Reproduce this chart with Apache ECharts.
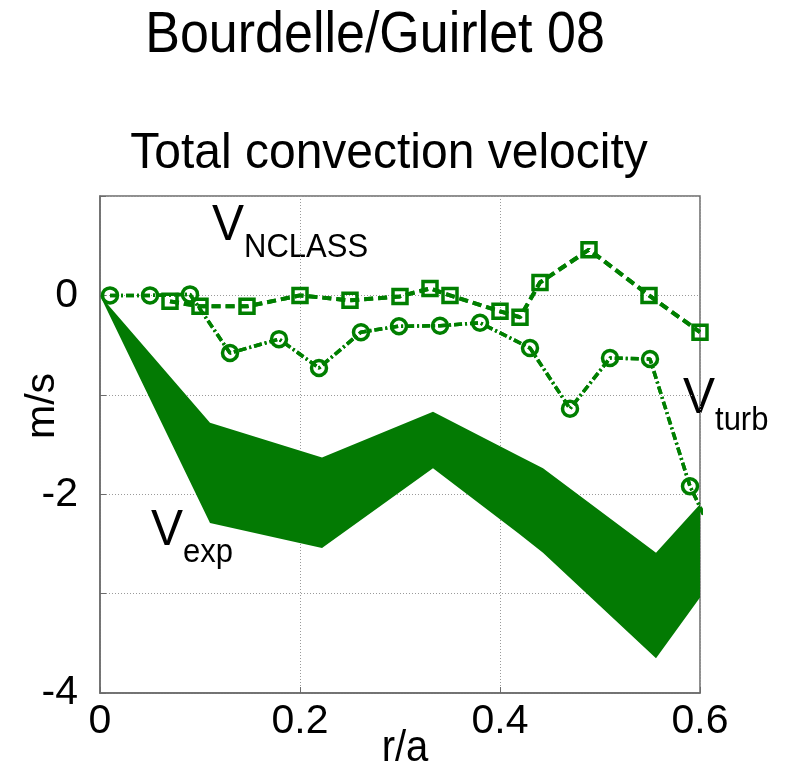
<!DOCTYPE html>
<html>
<head>
<meta charset="utf-8">
<title>Total convection velocity</title>
<script src="https://cdn.jsdelivr.net/npm/echarts@6/dist/echarts.min.js"></script>
<style>
  html, body { margin: 0; padding: 0; background: #fff; }
  #chart { width: 785px; height: 766px; }
</style>
</head>
<body>
<div id="chart"></div>
<script>
// Turbulent convection velocity V_turb (circles)
const turbR = [0.01, 0.05, 0.09, 0.13, 0.179, 0.219, 0.261, 0.299, 0.34, 0.38, 0.43, 0.47, 0.51, 0.55, 0.59, 0.62];
const turbV = [0.0, 0.0, 0.01, -0.58, -0.44, -0.73, -0.37, -0.31, -0.305, -0.275, -0.53, -1.14, -0.63, -0.64, -1.92, -2.55];

// Neoclassical convection velocity V_NCLASS (squares)
const nclassR = [0.07, 0.10, 0.147, 0.20, 0.25, 0.30, 0.33, 0.35, 0.40, 0.42, 0.44, 0.489, 0.549, 0.60];
const nclassV = [-0.06, -0.11, -0.11, 0.0, -0.05, -0.01, 0.07, 0.0, -0.16, -0.22, 0.13, 0.46, 0.0, -0.37];

// Experimental convection velocity V_exp (uncertainty band)
const expR     = [0.0, 0.11, 0.222, 0.333, 0.418, 0.443, 0.556, 0.60];
const expUpper = [0.0, -1.28, -1.63, -1.17, -1.61, -1.74, -2.59, -2.10];
const expLower = [0.0, -2.29, -2.54, -1.74, -2.39, -2.59, -3.65, -3.04];

// Axis ticks
const xTicks = [0, 0.2, 0.4, 0.6];
const yTicks = [-4, -3, -2, -1, 0, 1];
const yLabelled = [-4, -2, 0];

const GREEN = '#007f00';
const BAND = '#037a03';
const FONT = '"Liberation Sans", Arial, Helvetica, sans-serif';

const chart = echarts.init(document.getElementById('chart'), null, { renderer: 'canvas' });

// Tall label "V" with a lowered subscript
function subLabel(main, sub, x, y) {
  return {
    type: 'text', x: x, y: y, scaleY: 1.06,
    style: {
      text: '{v|' + main + '}{s|' + sub + '}', x: 0, y: 0, verticalAlign: 'middle',
      rich: {
        v: { fontSize: 48, fontFamily: FONT, color: '#000', verticalAlign: 'top', lineHeight: 50 },
        s: { fontSize: 31, fontFamily: FONT, color: '#000', verticalAlign: 'bottom', lineHeight: 50, padding: [0, 0, -10, 0] }
      }
    }
  };
}

const nclassData = nclassR.map((r, i) => [r, nclassV[i]]);
const turbData = turbR.map((r, i) => [r, turbV[i]]);
const nclassLine = { color: GREEN, width: 4, type: [9, 5] };
const turbLine = { color: GREEN, width: 3.5, type: [8, 3, 2, 3] };

const option = {
  backgroundColor: '#ffffff',
  animation: false,
  grid: {
    left: 100, right: 85, top: 196, bottom: 73,
    show: true, borderColor: '#6b6b6b', borderWidth: 1.5, backgroundColor: 'transparent'
  },
  xAxis: {
    type: 'value',
    min: xTicks[0], max: xTicks[xTicks.length - 1], interval: 0.2,
    axisLine: { show: true, onZero: false, lineStyle: { color: '#6b6b6b', width: 1.5 } },
    axisTick: { show: true, inside: true, length: 6, lineStyle: { color: '#6b6b6b' } },
    splitLine: { show: true, lineStyle: { color: '#9a9a9a', type: [1, 2], width: 1 } },
    axisLabel: {
      color: '#000', fontSize: 41, fontFamily: FONT, margin: 8,
      formatter: v => String(+v.toFixed(1))
    }
  },
  yAxis: {
    type: 'value',
    min: yTicks[0], max: yTicks[yTicks.length - 1], interval: 1,
    axisLine: { show: true, onZero: false, lineStyle: { color: '#6b6b6b', width: 1.5 } },
    axisTick: { show: true, inside: true, length: 6, lineStyle: { color: '#6b6b6b' } },
    splitLine: { show: true, lineStyle: { color: '#9a9a9a', type: [1, 2], width: 1 } },
    axisLabel: {
      color: '#000', fontSize: 41, fontFamily: FONT, margin: 22,
      formatter: v => (yLabelled.indexOf(v) >= 0 ? String(v) : '')
    }
  },
  graphic: [
    { type: 'text', x: 375, y: 36, scaleY: 1.1, style: { text: 'Bourdelle/Guirlet 08', x: 0, y: 0, fill: '#000', font: '52px ' + FONT, align: 'center', verticalAlign: 'middle' } },
    { type: 'text', x: 389, y: 154, scaleY: 1.05, style: { text: 'Total convection velocity', x: 0, y: 0, fill: '#000', font: '48px ' + FONT, align: 'center', verticalAlign: 'middle' } },
    { type: 'text', x: 405, y: 749, scaleY: 1.1, style: { text: 'r/a', x: 0, y: 0, fill: '#000', font: '40px ' + FONT, align: 'center', verticalAlign: 'middle' } },
    { type: 'text', x: 43, y: 406, rotation: Math.PI / 2, style: { text: 'm/s', x: 0, y: 0, fill: '#000', font: '41px ' + FONT, align: 'center', verticalAlign: 'middle' } },
    subLabel('V', 'NCLASS', 212, 227),
    subLabel('V', 'turb', 683, 400),
    subLabel('V', 'exp', 151, 532)
  ],
  series: [
    {
      name: 'V_exp',
      type: 'custom',
      coordinateSystem: 'cartesian2d',
      clip: true,
      z: 1,
      data: [[expR[0], expUpper[0]]],
      renderItem: function (params, api) {
        const pts = [];
        for (let i = 0; i < expR.length; i++) pts.push(api.coord([expR[i], expUpper[i]]));
        for (let i = expR.length - 1; i >= 0; i--) pts.push(api.coord([expR[i], expLower[i]]));
        return { type: 'polygon', shape: { points: pts }, style: { fill: BAND, stroke: null } };
      }
    },
    {
      name: 'V_NCLASS',
      type: 'line',
      z: 3,
      clip: true,
      data: nclassData,
      symbol: 'rect',
      symbolSize: 14,
      lineStyle: nclassLine,
      itemStyle: { color: 'rgba(255,255,255,0)', borderColor: GREEN, borderWidth: 3.5 }
    },
    {
      name: 'V_turb',
      type: 'line',
      z: 3,
      clip: true,
      data: turbData,
      symbol: 'circle',
      symbolSize: 15,
      lineStyle: turbLine,
      itemStyle: { color: 'rgba(255,255,255,0)', borderColor: GREEN, borderWidth: 3.5 }
    },
    // the dashed strokes run across the open markers
    { name: 'V_NCLASS', type: 'line', z: 4, clip: true, data: nclassData, symbol: 'none', lineStyle: nclassLine, silent: true },
    { name: 'V_turb', type: 'line', z: 4, clip: true, data: turbData, symbol: 'none', lineStyle: turbLine, silent: true }
  ]
};

chart.setOption(option);
</script>
</body>
</html>
